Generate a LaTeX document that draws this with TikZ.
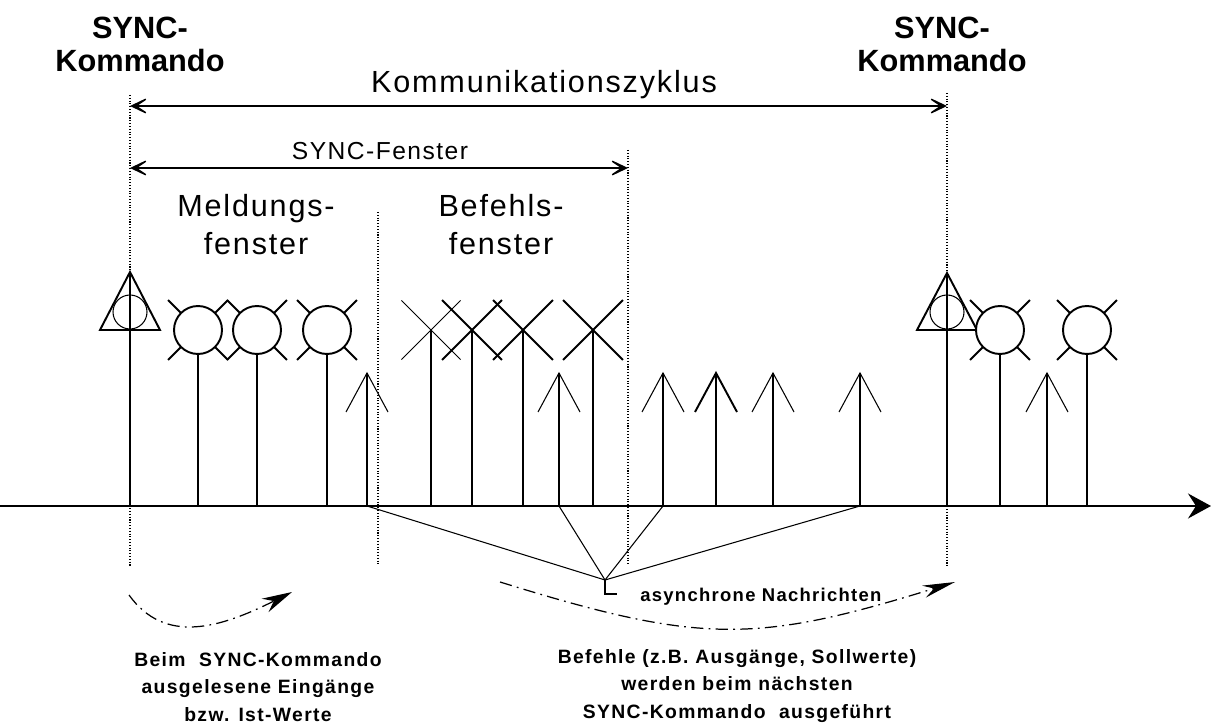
\documentclass[tikz,border=0pt]{standalone}
\usepackage{fontspec}
\setmainfont{Liberation Sans}
\newfontfamily\bandfont[LetterSpace=6]{Liberation Sans}
\newfontfamily\fussfont[LetterSpace=7]{Liberation Sans}
\usetikzlibrary{arrows.meta,shapes.misc}

\begin{document}
\begin{tikzpicture}[x=0.02cm,y=-0.02cm]

\tikzset{punkt/.style={coordinate},}
\tikzset{kreis/.style={circle,minimum size=0.96cm,inner sep=0pt,draw,fill=white,line width=1.1pt},}
\tikzset{ring/.style={circle,minimum size=0.68cm,inner sep=0pt,draw,line width=0.6pt},}
\tikzset{kreuz/.style={cross out,minimum size=1.16cm,inner sep=0pt,draw,line width=1.1pt},}
\tikzset{dick/.style={line width=1.1pt},}
\tikzset{duenn/.style={line width=0.6pt},}
\tikzset{raster/.style={densely dotted,line width=0.6pt},}
\tikzset{bogen/.style={line width=0.7pt,dash pattern=on 7pt off 3pt on 1pt off 3pt},}
\tikzset{masspfeil/.style={line width=0.8pt,>={Stealth[length=0.48cm,width=0.46cm,inset=0.34cm]},<->},}
\tikzset{titel/.style={font=\bfseries\fontsize{17.5}{19.3}\selectfont,align=center,inner sep=0pt},}
\tikzset{band/.style={font=\bandfont\fontsize{17.4}{22}\selectfont,align=center,inner sep=0pt},}
\tikzset{fuss/.style={font=\fussfont\bfseries\fontsize{11}{15.6}\selectfont,align=center,inner sep=0pt},}

\useasboundingbox (0,0) rectangle (1211,726);

%ZEITACHSE
\draw (0,506) node [punkt] (achse0) {};
\draw (1211,506) node [punkt] (achse1) {};
\draw[line width=1.2pt,-{Stealth[length=0.46cm,width=0.5cm,inset=0.16cm]}] (achse0) -- (achse1);

%RASTER
\draw (130,95) node [punkt] (r1o) {};
\draw (130,566) node [punkt] (r1u) {};
\draw (378,212) node [punkt] (r2o) {};
\draw (378,565) node [punkt] (r2u) {};
\draw (628,150) node [punkt] (r3o) {};
\draw (628,565) node [punkt] (r3u) {};
\draw (947,93) node [punkt] (r4o) {};
\draw (947,566) node [punkt] (r4u) {};
\draw[raster] (r1o) -- (r1u);
\draw[raster] (r2o) -- (r2u);
\draw[raster] (r3o) -- (r3u);
\draw[raster] (r4o) -- (r4u);

%KOMMUNIKATIONSZYKLUS
\draw (130,106) node [punkt] (kz0) {};
\draw (947,106) node [punkt] (kz1) {};
\draw[masspfeil] (kz0) -- (kz1);
\draw (544,93) node [band,anchor=base] (kzl) {Kommunikationszyklus};

%SYNC-FENSTER
\draw (130,168) node [punkt] (sf0) {};
\draw (628,168) node [punkt] (sf1) {};
\draw[masspfeil] (sf0) -- (sf1);
\draw (380,160) node [band,font=\bandfont\fontsize{14}{17}\selectfont,anchor=base] (sfl) {SYNC-Fenster};
\draw (256,255) node [band,anchor=base] (mf) {Meldungs-\\fenster};
\draw (501,255) node [band,anchor=base] (bf) {Befehls-\\fenster};

\draw (140,72) node [titel,anchor=base] (sync1) {SYNC-\\Kommando};
\draw (942,72) node [titel,anchor=base] (sync2) {SYNC-\\Kommando};

%SYNC-KOMMANDO
\draw (130,506) node [punkt] (s1u) {};
\draw (130,272) node [punkt] (s1) {};
\draw (130,312) node [ring] (s1k) {};
\draw[dick] (s1u) -- (s1);
\draw[dick] (s1) -- ++(-30,58) -- ++(60,0) -- cycle;

\draw (947,506) node [punkt] (s2u) {};
\draw (947,273) node [punkt] (s2) {};
\draw (947,312) node [ring] (s2k) {};
\draw[dick] (s2u) -- (s2);
\draw[dick] (s2) -- ++(-30,57) -- ++(60,0) -- cycle;

%MELDUNGEN
\draw (198,506) node [punkt] (m1u) {};
\draw (198,330) node [kreuz] (m1x) {};
\draw (198,330) node [kreis] (m1) {};
\draw[dick] (m1u) -- (m1);

\draw (257,506) node [punkt] (m2u) {};
\draw (257,330) node [kreuz] (m2x) {};
\draw (257,330) node [kreis] (m2) {};
\draw[dick] (m2u) -- (m2);

\draw (327,506) node [punkt] (m3u) {};
\draw (327,330) node [kreuz] (m3x) {};
\draw (327,330) node [kreis] (m3) {};
\draw[duenn] (m3u) -- (m3);

\draw (1000,506) node [punkt] (m4u) {};
\draw (1000,330) node [kreuz] (m4x) {};
\draw (1000,330) node [kreis] (m4) {};
\draw[dick] (m4u) -- (m4);

\draw (1087,506) node [punkt] (m5u) {};
\draw (1087,330) node [kreuz] (m5x) {};
\draw (1087,330) node [kreis] (m5) {};
\draw[dick] (m5u) -- (m5);

%BEFEHLE
\draw (431,506) node [punkt] (b1u) {};
\draw (431,330) node [kreuz,line width=0.6pt] (b1) {};
\draw[duenn] (b1u) -- (b1.center);

\draw (472,506) node [punkt] (b2u) {};
\draw (472,330) node [kreuz] (b2) {};
\draw[dick] (b2u) -- (b2.center);

\draw (523,506) node [punkt] (b3u) {};
\draw (523,330) node [kreuz] (b3) {};
\draw[dick] (b3u) -- (b3.center);

\draw (593,506) node [punkt] (b4u) {};
\draw (593,330) node [kreuz] (b4) {};
\draw[dick] (b4u) -- (b4.center);

%ASYNCHRONE NACHRICHTEN
\draw (367,506) node [punkt] (n1u) {};
\draw (367,373) node [punkt] (n1) {};
\draw[dick] (n1u) -- (n1);
\draw[duenn] (n1) ++(-21,39) -- (n1) -- ++(21,39);

\draw (559,506) node [punkt] (n2u) {};
\draw (559,373) node [punkt] (n2) {};
\draw[duenn] (n2u) -- (n2);
\draw[duenn] (n2) ++(-21,39) -- (n2) -- ++(21,39);

\draw (663,506) node [punkt] (n3u) {};
\draw (663,373) node [punkt] (n3) {};
\draw[duenn] (n3u) -- (n3);
\draw[duenn] (n3) ++(-21,39) -- (n3) -- ++(21,39);

\draw (716,506) node [punkt] (n4u) {};
\draw (716,373) node [punkt] (n4) {};
\draw[dick] (n4u) -- (n4);
\draw[dick] (n4) ++(-21,39) -- (n4) -- ++(21,39);

\draw (773,506) node [punkt] (n5u) {};
\draw (773,373) node [punkt] (n5) {};
\draw[dick] (n5u) -- (n5);
\draw[duenn] (n5) ++(-21,39) -- (n5) -- ++(21,39);

\draw (860,506) node [punkt] (n6u) {};
\draw (860,373) node [punkt] (n6) {};
\draw[dick] (n6u) -- (n6);
\draw[duenn] (n6) ++(-21,39) -- (n6) -- ++(21,39);

\draw (1047,506) node [punkt] (n7u) {};
\draw (1047,373) node [punkt] (n7) {};
\draw[duenn] (n7u) -- (n7);
\draw[duenn] (n7) ++(-21,39) -- (n7) -- ++(21,39);

%ZUSAMMENFUEHRUNG
\draw (605,580) node [punkt] (sammel) {};
\draw[duenn] (n1u) -- (sammel);
\draw[duenn] (n2u) -- (sammel);
\draw[duenn] (n3u) -- (sammel);
\draw[duenn] (n6u) -- (sammel);
\draw[dick] (sammel) -- ++(0,14) -- ++(12,0);
\draw (640,601) node [fuss,anchor=base west,font=\fussfont\bfseries\fontsize{10.5}{14}\selectfont] (asyn) {asynchrone Nachrichten};

%UEBERNAHME
\draw (129,595) node [punkt] (e0) {};
\draw (292,592) node [punkt] (e1) {};
\draw[bogen,-{Stealth[length=0.6cm,width=0.3cm]}] (e0) .. controls (165,645) and (220,628) .. (e1);
\draw (500,582) node [punkt] (v0) {};
\draw (955,582) node [punkt] (v1) {};
\draw[bogen,-{Stealth[length=0.65cm,width=0.25cm]}] (v0) .. controls (700,644) and (755,644) .. (v1);

\draw (258,721) node [fuss,anchor=base] (links) {Beim\ \ SYNC-Kommando\\ausgelesene Eingänge\\bzw. Ist-Werte};
\draw (737,718) node [fuss,anchor=base] (rechts) {Befehle (z.B. Ausgänge, Sollwerte)\\werden beim nächsten\\SYNC-Kommando\ \ ausgeführt};

\end{tikzpicture}
\end{document}
